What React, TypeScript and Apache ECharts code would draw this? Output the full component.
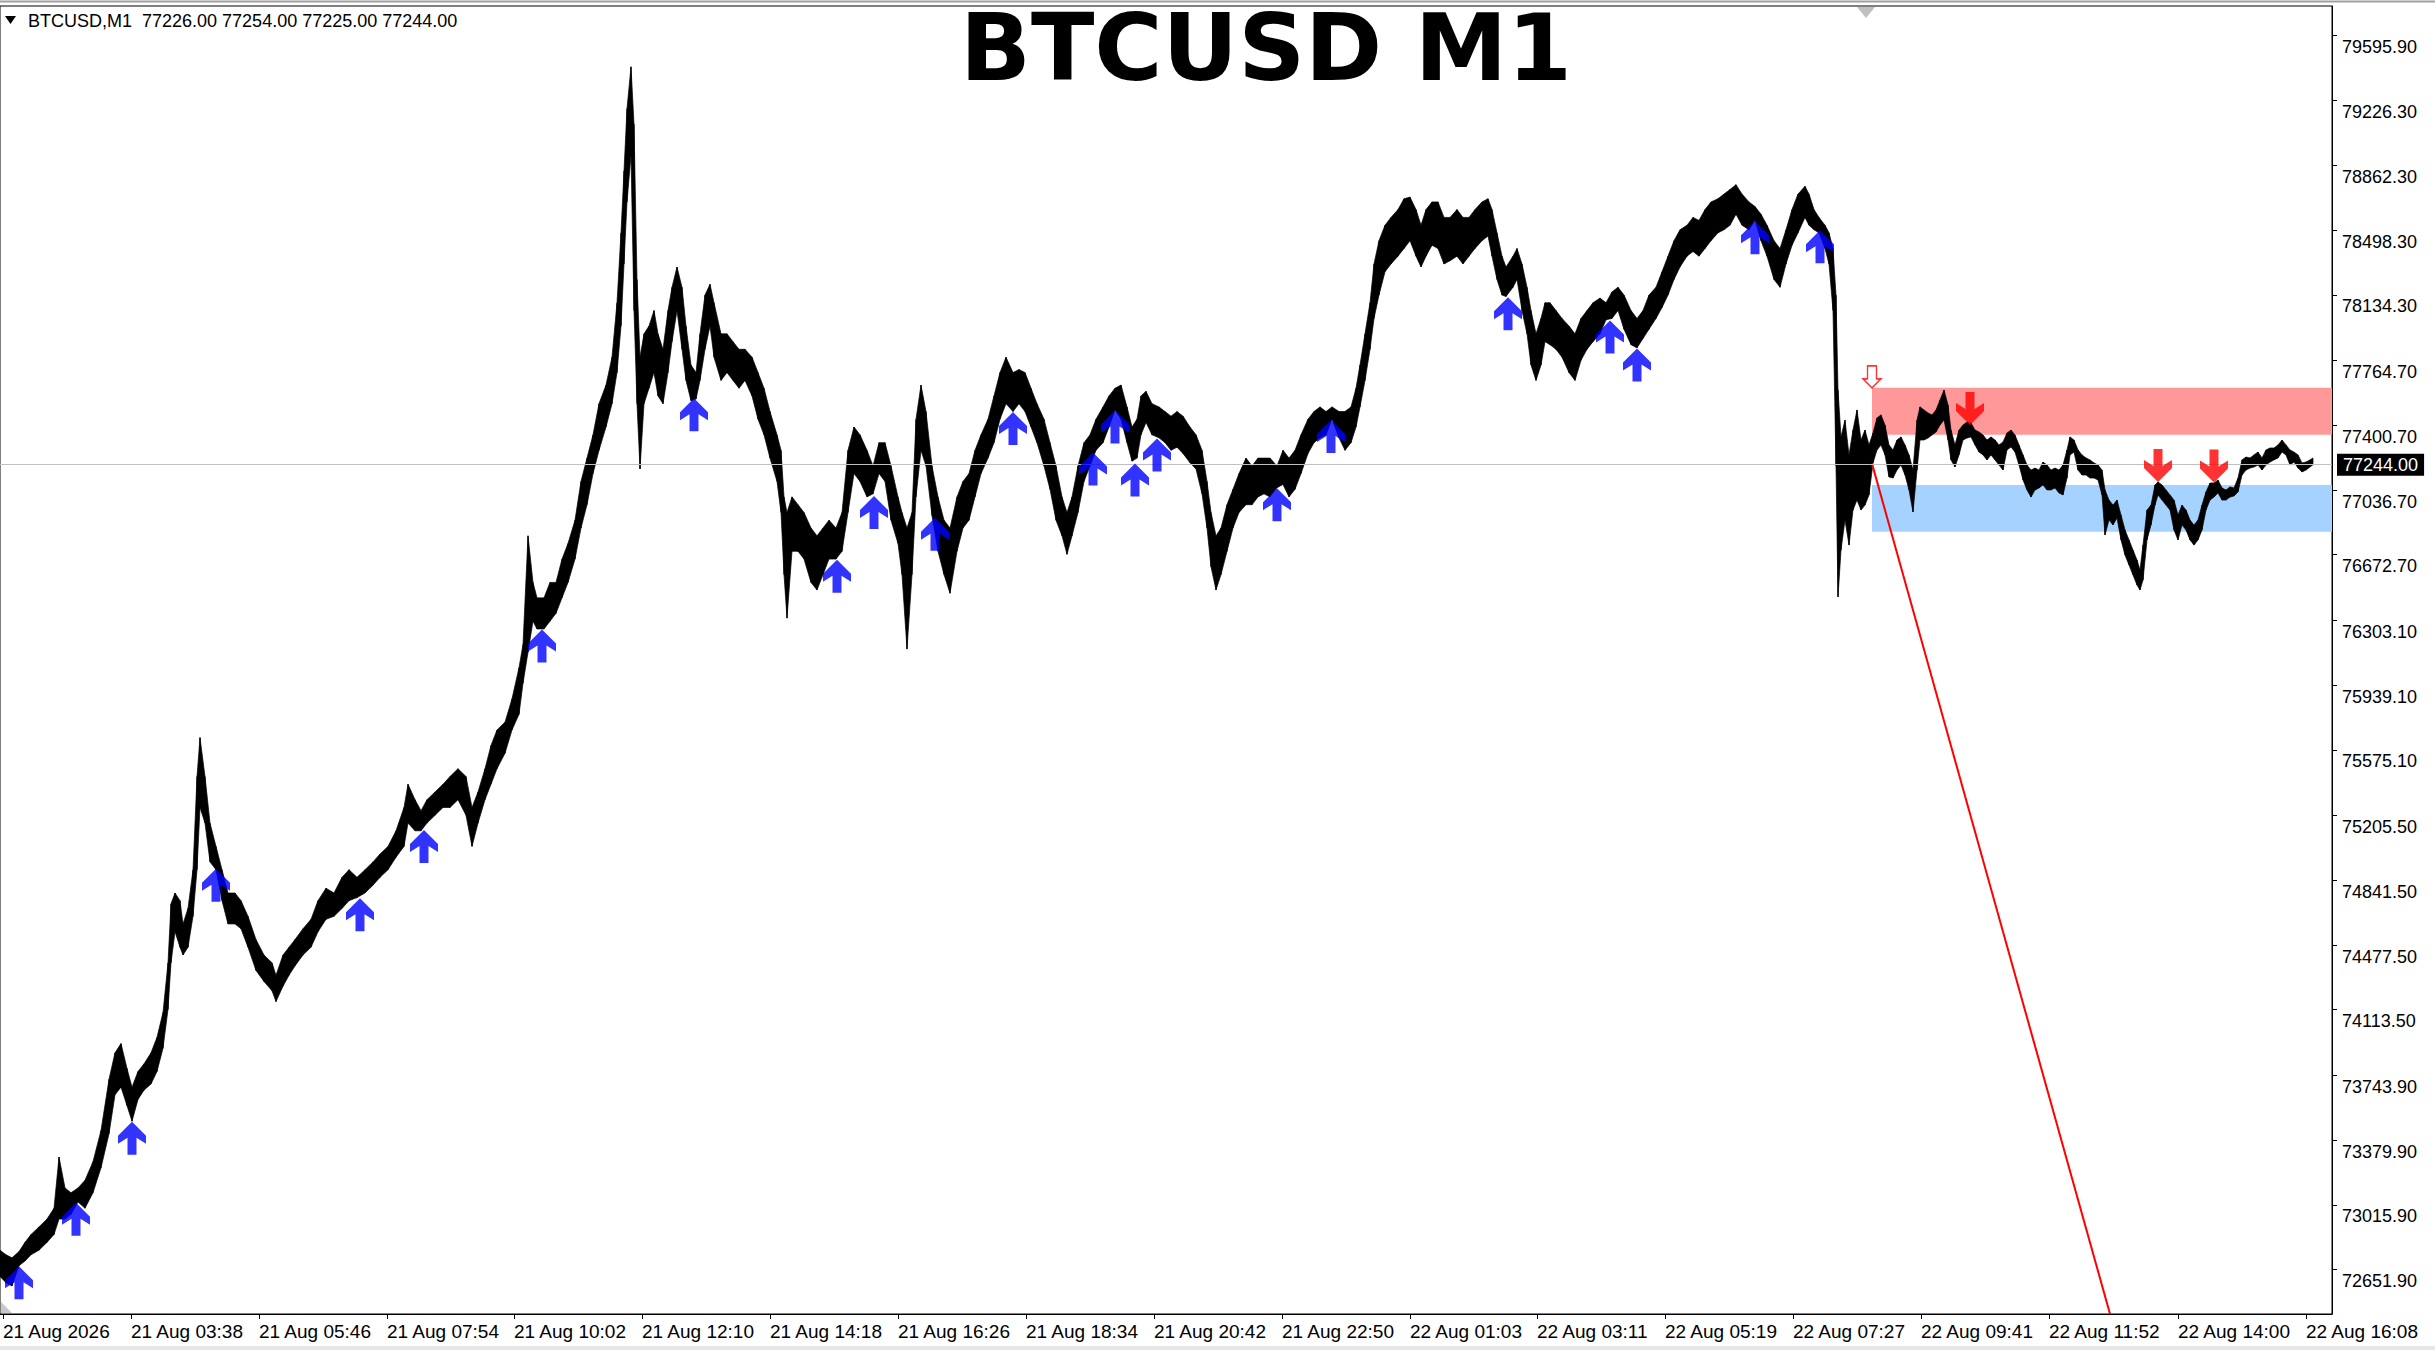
import React, { useEffect, useRef } from "react";
import * as echarts from "echarts";

// ---------- axis labels ----------
const timeLabels = [
  "21 Aug 2026", "21 Aug 03:38", "21 Aug 05:46", "21 Aug 07:54", "21 Aug 10:02",
  "21 Aug 12:10", "21 Aug 14:18", "21 Aug 16:26", "21 Aug 18:34", "21 Aug 20:42",
  "21 Aug 22:50", "22 Aug 01:03", "22 Aug 03:11", "22 Aug 05:19", "22 Aug 07:27",
  "22 Aug 09:41", "22 Aug 11:52", "22 Aug 14:00", "22 Aug 16:08",
];
const timeLabelBars = [3, 131, 259, 387, 514, 642, 770, 898, 1026, 1154, 1282, 1410, 1537, 1665, 1793, 1921, 2049, 2178, 2306];
const priceLabels = [
  79595.9, 79226.3, 78862.3, 78498.3, 78134.3, 77764.7, 77400.7, 77036.7, 76672.7, 76303.1,
  75939.1, 75575.1, 75205.5, 74841.5, 74477.5, 74113.5, 73743.9, 73379.9, 73015.9, 72651.9,
];
const yMin = 72467;
const yMax = 79824;
const barCount = 2332;

// ---------- M1 price path: [bar, high, low] ----------
const rallySegment = [
  [0, 72826, 72678], [6, 72800, 72643], [12, 72783, 72625], [19, 72818, 72739], [25, 72870, 72765],
  [31, 72914, 72800], [39, 72957, 72826], [47, 73001, 72870], [54, 73062, 72914], [59, 73350, 73001],
  [65, 73176, 73001], [71, 73149, 73027], [78, 73176, 73097], [85, 73219, 73062], [93, 73324, 73149],
  [101, 73499, 73289], [109, 73787, 73481], [115, 73936, 73700], [121, 73988, 73743], [127, 73848, 73639],
  [132, 73743, 73551], [138, 73831, 73674], [144, 73874, 73726], [151, 73936, 73761], [157, 74023, 73831],
  [163, 74163, 73962], [168, 74442, 74180], [171, 74774, 74442], [175, 74835, 74617], [180, 74792, 74530],
  [183, 74661, 74486], [188, 74748, 74530], [193, 74966, 74704], [197, 75490, 74966], [200, 75709, 75316],
  [205, 75490, 75228], [210, 75228, 75010], [216, 75097, 74966], [222, 74966, 74792], [228, 74835, 74661],
  [235, 74835, 74661], [241, 74792, 74634], [248, 74704, 74530], [256, 74573, 74399], [264, 74486, 74337],
  [272, 74442, 74285], [276, 74372, 74224], [283, 74486, 74311], [289, 74530, 74372], [295, 74573, 74425],
  [303, 74634, 74486], [311, 74687, 74530], [318, 74792, 74617], [326, 74862, 74687], [334, 74835, 74704],
  [342, 74923, 74748], [349, 74966, 74792], [357, 74923, 74809], [365, 74966, 74835], [373, 75010, 74879],
  [380, 75054, 74923], [388, 75097, 74966], [396, 75185, 75036], [404, 75316, 75097], [408, 75447, 75228],
  [415, 75360, 75185], [421, 75298, 75185], [427, 75360, 75228], [435, 75403, 75272], [443, 75447, 75316],
  [450, 75490, 75316], [458, 75534, 75360], [466, 75490, 75272], [472, 75316, 75097], [478, 75403, 75228],
  [485, 75534, 75360], [491, 75665, 75447], [497, 75752, 75534], [505, 75796, 75621], [512, 75927, 75752],
  [519, 76102, 75840], [523, 76233, 76015], [528, 76844, 76189], [533, 76582, 76364], [537, 76495, 76320],
  [544, 76495, 76320], [550, 76582, 76364], [556, 76582, 76408], [562, 76713, 76495], [568, 76801, 76582],
  [575, 76932, 76713], [581, 77150, 76888], [587, 77281, 77019], [593, 77412, 77194], [599, 77587, 77325],
  [606, 77692, 77456], [612, 77849, 77587], [617, 78155, 77762], [621, 78548, 78024], [624, 78897, 78373],
  [627, 79247, 78722], [631, 79482, 78985], [634, 79159, 78111], [637, 78286, 77587], [640, 77849, 77220],
];
const firstRangeSegment = [
  [644, 77980, 77587], [649, 78024, 77674], [654, 78111, 77762], [658, 77980, 77631], [663, 77893, 77587],
  [668, 78111, 77762], [672, 78242, 77936], [677, 78356, 78111], [682, 78242, 77893], [686, 78024, 77718],
  [691, 77805, 77604], [696, 77762, 77613], [700, 77980, 77718], [705, 78198, 77893], [710, 78259, 78024],
  [714, 78155, 77849], [721, 77980, 77718], [727, 77980, 77762], [733, 77936, 77718], [739, 77893, 77674],
  [745, 77893, 77718], [752, 77849, 77631], [758, 77762, 77500], [764, 77674, 77412], [770, 77543, 77281],
  [777, 77412, 77150], [781, 77325, 76975], [784, 77063, 76626], [787, 76975, 76381], [792, 77063, 76757],
  [798, 77019, 76757], [804, 76975, 76713], [811, 76888, 76582], [817, 76844, 76539], [823, 76888, 76626],
  [829, 76932, 76713], [836, 76888, 76713], [842, 76975, 76757], [848, 77325, 76975], [854, 77456, 77194],
  [860, 77412, 77150], [867, 77325, 77063], [873, 77237, 77080], [879, 77368, 77194], [885, 77368, 77150],
  [891, 77237, 76932], [898, 77063, 76801], [902, 76975, 76626], [907, 76888, 76207], [912, 76975, 76626],
  [916, 77500, 77063], [921, 77692, 77325], [926, 77543, 77237], [932, 77237, 76958], [938, 77063, 76757],
  [944, 76932, 76626], [950, 76888, 76521], [957, 77063, 76757], [963, 77150, 76888], [969, 77194, 76932],
  [975, 77325, 77063], [981, 77412, 77194], [988, 77500, 77281], [994, 77631, 77368], [1000, 77762, 77500],
  [1006, 77849, 77587], [1013, 77762, 77543], [1019, 77779, 77587], [1025, 77762, 77543], [1031, 77674, 77456],
  [1037, 77587, 77368], [1044, 77500, 77237], [1050, 77368, 77106], [1056, 77237, 76932], [1062, 77063, 76844],
  [1067, 76975, 76740], [1072, 77063, 76844], [1078, 77237, 76975], [1084, 77368, 77150], [1090, 77412, 77237],
  [1096, 77500, 77325], [1103, 77569, 77368], [1109, 77631, 77456], [1115, 77674, 77552], [1121, 77692, 77500],
  [1127, 77569, 77368], [1132, 77456, 77264], [1137, 77500, 77281], [1141, 77631, 77412], [1146, 77657, 77482],
  [1152, 77587, 77412], [1159, 77569, 77395], [1165, 77543, 77368], [1171, 77517, 77325], [1177, 77543, 77342],
  [1183, 77517, 77307], [1190, 77456, 77255], [1196, 77412, 77220], [1202, 77325, 77080], [1207, 77150, 76888],
  [1211, 76975, 76670], [1216, 76844, 76539], [1221, 76888, 76626], [1227, 77019, 76757], [1233, 77106, 76888],
  [1239, 77194, 76975], [1246, 77281, 77019], [1252, 77237, 77019], [1258, 77281, 77063], [1264, 77281, 77080],
  [1270, 77281, 77063], [1277, 77237, 77115], [1283, 77325, 77133], [1289, 77281, 77063], [1295, 77325, 77106],
  [1301, 77412, 77194], [1308, 77500, 77307], [1314, 77543, 77368], [1320, 77569, 77395], [1326, 77543, 77412],
  [1332, 77569, 77500], [1339, 77543, 77395], [1345, 77543, 77325], [1351, 77569, 77368],
];
const highRangeSegment = [
  [1356, 77674, 77456], [1360, 77805, 77569], [1365, 77980, 77718], [1370, 78155, 77893], [1374, 78373, 78067],
  [1379, 78504, 78198], [1385, 78591, 78329], [1391, 78635, 78373], [1398, 78679, 78417], [1404, 78740, 78460],
  [1410, 78749, 78504], [1416, 78679, 78417], [1421, 78591, 78356], [1426, 78679, 78417], [1432, 78722, 78478],
  [1438, 78722, 78460], [1444, 78635, 78373], [1450, 78635, 78391], [1457, 78679, 78417], [1463, 78635, 78373],
  [1469, 78635, 78417], [1475, 78679, 78460], [1482, 78722, 78504], [1488, 78740, 78530], [1492, 78679, 78417],
  [1497, 78548, 78286], [1502, 78417, 78198], [1506, 78356, 78190], [1513, 78417, 78242], [1517, 78460, 78286],
  [1522, 78373, 78111], [1527, 78242, 77980], [1531, 78111, 77805], [1536, 77980, 77718], [1541, 78067, 77805],
  [1545, 78155, 77936], [1550, 78155, 77919], [1556, 78111, 77893], [1562, 78067, 77849], [1569, 78024, 77762],
  [1575, 77980, 77718], [1581, 78067, 77831], [1587, 78111, 77893], [1593, 78155, 77936], [1600, 78181, 77980],
  [1606, 78155, 78059], [1612, 78216, 78067], [1618, 78242, 78111], [1624, 78198, 78006], [1631, 78111, 77919],
  [1637, 78067, 77901], [1643, 78111, 77954], [1649, 78198, 78006], [1656, 78242, 78067], [1662, 78329, 78128],
  [1668, 78417, 78198], [1674, 78504, 78286], [1680, 78565, 78356], [1687, 78591, 78417], [1693, 78635, 78443],
  [1699, 78618, 78417], [1705, 78679, 78460], [1711, 78722, 78504], [1718, 78740, 78548], [1724, 78766, 78565],
  [1730, 78792, 78591], [1736, 78819, 78653], [1742, 78766, 78591], [1749, 78722, 78565], [1755, 78696, 78618],
  [1761, 78653, 78504], [1767, 78591, 78417], [1774, 78504, 78286], [1780, 78460, 78242], [1786, 78565, 78373],
  [1792, 78679, 78478], [1798, 78766, 78548], [1805, 78810, 78635], [1809, 78766, 78591], [1814, 78679, 78565],
  [1819, 78635, 78548], [1825, 78591, 78460], [1829, 78548, 78373], [1833, 78460, 78111], [1836, 78198, 77237],
];
const dropSegment = [
  [1838, 77664, 76500], [1841, 77400, 76764], [1845, 77495, 76933], [1849, 77299, 76792], [1853, 77439, 76989],
  [1857, 77552, 77045], [1861, 77383, 76989], [1865, 77439, 77017], [1869, 77355, 77074], [1873, 77422, 77254],
  [1877, 77507, 77327], [1881, 77524, 77355], [1885, 77467, 77299], [1889, 77355, 77175], [1893, 77327, 77169],
  [1897, 77383, 77214], [1901, 77400, 77242], [1905, 77355, 77186], [1909, 77299, 77102], [1913, 77214, 76978],
  [1917, 77495, 77214], [1920, 77569, 77383], [1924, 77552, 77383], [1928, 77535, 77394], [1932, 77524, 77411],
  [1936, 77552, 77428], [1940, 77608, 77467], [1944, 77664, 77495], [1948, 77580, 77383], [1951, 77439, 77271],
  [1955, 77355, 77231], [1959, 77439, 77299], [1963, 77467, 77383], [1967, 77484, 77394], [1971, 77479, 77400],
  [1975, 77439, 77355], [1979, 77428, 77315], [1983, 77411, 77299], [1987, 77383, 77271], [1991, 77400, 77299],
  [1995, 77383, 77271], [1999, 77355, 77242], [2003, 77372, 77214], [2007, 77422, 77327], [2011, 77439, 77344],
  [2015, 77411, 77315], [2019, 77355, 77242], [2023, 77299, 77158], [2027, 77242, 77102], [2031, 77214, 77062],
  [2035, 77225, 77102], [2039, 77214, 77113], [2043, 77259, 77130], [2047, 77242, 77102], [2051, 77214, 77102],
  [2055, 77225, 77113], [2059, 77214, 77085], [2063, 77242, 77074], [2067, 77327, 77169], [2070, 77400, 77299],
  [2074, 77383, 77315], [2078, 77327, 77214], [2082, 77299, 77186], [2086, 77282, 77186], [2090, 77271, 77169],
  [2094, 77254, 77169], [2098, 77242, 77158], [2102, 77214, 77074], [2105, 77102, 76849], [2109, 77045, 76933],
  [2113, 77017, 76905], [2117, 77045, 76944], [2121, 76961, 76821], [2125, 76877, 76736], [2129, 76821, 76680],
  [2133, 76764, 76624], [2137, 76708, 76567], [2140, 76652, 76539], [2143, 76792, 76595], [2147, 76989, 76821],
  [2151, 77017, 76905], [2155, 77130, 77017], [2158, 77147, 77074], [2162, 77130, 77045], [2166, 77102, 77017],
  [2170, 77074, 76989], [2174, 77045, 76877], [2178, 76961, 76821], [2182, 77017, 76905], [2186, 76989, 76877],
  [2190, 76933, 76821], [2194, 76905, 76792], [2198, 76933, 76821], [2202, 77017, 76877], [2206, 77091, 76989],
  [2210, 77141, 77045], [2214, 77141, 77062], [2218, 77158, 77085], [2222, 77113, 77045], [2226, 77102, 77045],
  [2230, 77119, 77062], [2234, 77113, 77068], [2238, 77169, 77091], [2242, 77271, 77186], [2246, 77287, 77214],
  [2250, 77282, 77225], [2254, 77299, 77231], [2258, 77315, 77242], [2262, 77282, 77214], [2266, 77327, 77242],
  [2270, 77338, 77259], [2274, 77338, 77271], [2278, 77355, 77282], [2282, 77383, 77315], [2286, 77355, 77299],
  [2290, 77327, 77242], [2294, 77315, 77259], [2298, 77299, 77225], [2302, 77254, 77203], [2306, 77259, 77214],
  [2310, 77271, 77231], [2313, 77282, 77244],
];

// ---------- signals ----------
const upArrowBars = [19, 76, 132, 216, 360, 424, 542, 694, 837, 874, 935, 1013, 1093, 1115, 1135, 1157, 1277, 1331, 1508, 1610, 1637, 1755, 1820];
const upArrowLows = [72735, 73093, 73548, 74972, 74806, 75190, 76317, 77618, 76710, 77068, 76946, 77540, 77313, 77549, 77251, 77392, 77112, 77496, 78186, 78055, 77898, 78614, 78562];
const downArrowBars = [1970, 2158, 2214];
const downArrowHighs = [77467, 77147, 77144];
const signalArrow = [1872, 77676];

// ---------- zones / lines ----------
const zoneStartBar = 1872;
const supplyZone = [77677, 77413];
const demandZone = [77130, 76867];
const trendLine = [[1872, 77250], [2110, 72467]];
const bidPrice = 77244;
const ohlc = [77226.0, 77254.0, 77225.0, 77244.0];

const UP_PATH = "path://M14 0 L28 14 L28 22 L18.5 16 L18.5 33 L9.5 33 L9.5 16 L0 22 L0 14 Z";
const DOWN_PATH = "path://M14 33 L28 19 L28 11 L18.5 17 L18.5 0 L9.5 0 L9.5 17 L0 11 L0 19 Z";
const HOLLOW_DOWN = "path://M4.5 0 L13.5 0 L13.5 13 L18 13 L9 22 L0 13 L4.5 13 Z";

const FONT = "Liberation Sans";

export default function App() {
  const ref = useRef<HTMLDivElement>(null);
  useEffect(() => {
    if (!ref.current) return;
    const chart = echarts.init(ref.current, null, { renderer: "svg" });
    const path = [...rallySegment, ...firstRangeSegment, ...highRangeSegment, ...dropSegment];
    const band: number[][] = [];
    for (let i = 0; i < path.length - 1; i++) {
      const a = path[i];
      const b = path[i + 1];
      band.push([a[0], a[1], a[2], b[0], b[1], b[2]]);
    }
    const tickOffset = 65;
    const header = "BTCUSD,M1  " + ohlc.map((v) => v.toFixed(2)).join(" ");

    chart.setOption({
      animation: false,
      backgroundColor: "#ffffff",
      grid: { left: 0, right: 103, top: 6, bottom: 36, show: true, borderColor: "#000", borderWidth: 1, backgroundColor: "#fff" },
      xAxis: {
        type: "value",
        min: 0,
        max: barCount,
        axisLine: { show: true, onZero: false, lineStyle: { color: "#000" } },
        axisTick: { show: true, length: 5, lineStyle: { color: "#000" }, customValues: timeLabelBars },
        axisLabel: {
          customValues: timeLabelBars,
          formatter: (v: number) => {
            const i = timeLabelBars.indexOf(v);
            return i >= 0 ? timeLabels[i] : "";
          },
          align: "left",
          margin: 8,
          color: "#000",
          fontFamily: FONT,
          fontSize: 19,
          showMinLabel: true,
          showMaxLabel: true,
        },
        splitLine: { show: false },
      },
      yAxis: {
        type: "value",
        position: "right",
        min: yMin,
        max: yMax,
        axisLine: { show: true, onZero: false, lineStyle: { color: "#000" } },
        axisTick: { show: true, length: 5, lineStyle: { color: "#000" }, customValues: priceLabels.map((v) => v + tickOffset) },
        axisLabel: {
          customValues: priceLabels,
          formatter: (v: number) => v.toFixed(2),
          margin: 10,
          color: "#000",
          fontFamily: FONT,
          fontSize: 18,
        },
        splitLine: { show: false },
      },
      series: [
        {
          type: "line",
          name: "zones",
          data: [[zoneStartBar, bidPrice]],
          showSymbol: false,
          lineStyle: { width: 0 },
          z: 1,
          silent: true,
          markArea: {
            silent: true,
            data: [
              [
                { xAxis: zoneStartBar, yAxis: supplyZone[0], itemStyle: { color: "#ff9999" } },
                { xAxis: barCount, yAxis: supplyZone[1] },
              ],
              [
                { xAxis: zoneStartBar, yAxis: demandZone[0], itemStyle: { color: "#a6d2ff" } },
                { xAxis: barCount, yAxis: demandZone[1] },
              ],
            ],
          },
          markLine: {
            silent: true,
            symbol: ["none", "none"],
            lineStyle: { color: "#c0c0c0", width: 1, type: "solid" },
            label: {
              show: true,
              position: "end",
              distance: 5,
              formatter: () => bidPrice.toFixed(2),
              color: "#fff",
              backgroundColor: "#000",
              padding: [2, 6, 2, 6],
              fontFamily: FONT,
              fontSize: 18,
            },
            data: [{ yAxis: bidPrice }],
          },
        },
        {
          type: "custom",
          name: "price",
          silent: true,
          z: 3,
          data: band,
          encode: { x: [0, 3], y: [1, 2, 4, 5] },
          renderItem: (_params: any, api: any) => {
            const p1 = api.coord([api.value(0), api.value(1)]);
            const p2 = api.coord([api.value(3), api.value(4)]);
            const p3 = api.coord([api.value(3), api.value(5)]);
            const p4 = api.coord([api.value(0), api.value(2)]);
            return {
              type: "polygon",
              shape: { points: [p1, p2, p3, p4] },
              style: { fill: "#000", stroke: "#000", lineWidth: 0.7 },
            };
          },
        },
        {
          type: "line",
          name: "trend",
          data: trendLine,
          showSymbol: false,
          lineStyle: { color: "#ff0000", width: 2 },
          z: 4,
          silent: true,
        },
        {
          type: "scatter",
          name: "buy",
          data: upArrowBars.map((b, i) => [b, upArrowLows[i]]),
          symbol: UP_PATH,
          symbolSize: [28, 33],
          symbolOffset: [0, "50%"],
          itemStyle: { color: "#0000ff" },
          z: 5,
          silent: true,
        },
        {
          type: "scatter",
          name: "sell",
          data: downArrowBars.map((b, i) => [b, downArrowHighs[i]]),
          symbol: DOWN_PATH,
          symbolSize: [28, 33],
          symbolOffset: [0, "-50%"],
          itemStyle: { color: "#ff0000" },
          z: 5,
          silent: true,
        },
        {
          type: "scatter",
          name: "signal",
          data: [signalArrow],
          symbol: HOLLOW_DOWN,
          symbolSize: [18, 22],
          symbolOffset: [0, "-50%"],
          itemStyle: { color: "#ffffff", borderColor: "#ff0000", borderWidth: 1.5 },
          z: 5,
          silent: true,
        },
      ],
      graphic: [
        { type: "line", shape: { x1: 0, y1: 1.5, x2: 2435, y2: 1.5 }, style: { stroke: "#a0a0a0", lineWidth: 2 }, silent: true },
        { type: "rect", shape: { x: 0, y: 1346, width: 2435, height: 4 }, style: { fill: "#e6e6e6" }, silent: true },
        { type: "polygon", shape: { points: [[5, 16], [16, 16], [10.5, 24]] }, style: { fill: "#000" }, silent: true },
        {
          type: "text",
          x: 28,
          y: 21,
          style: { text: header, fill: "#000", font: `18px "${FONT}"`, verticalAlign: "middle", align: "left" },
          silent: true,
        },
        {
          type: "text",
          x: 1266,
          y: 48,
          style: {
            text: "BTCUSD M1",
            fill: "#000",
            font: 'bold 93px "DejaVu Sans"',
            lineHeight: 72,
            verticalAlign: "middle",
            align: "center",
          },
          silent: true,
          z: 10,
        },
        { type: "polygon", shape: { points: [[1857, 7], [1875, 7], [1866, 18]] }, style: { fill: "#c0c0c0" }, silent: true, z: 10 },
        { type: "polygon", shape: { points: [[1, 1302], [1, 1313], [12, 1313]] }, style: { fill: "#c8c8c8" }, silent: true, z: 10 },
      ],
    });
    return () => chart.dispose();
  }, []);
  return (
    <div
      ref={ref}
      style={{ position: "absolute", left: 0, top: 0, width: 2435, height: 1350, background: "#fff" }}
    />
  );
}
